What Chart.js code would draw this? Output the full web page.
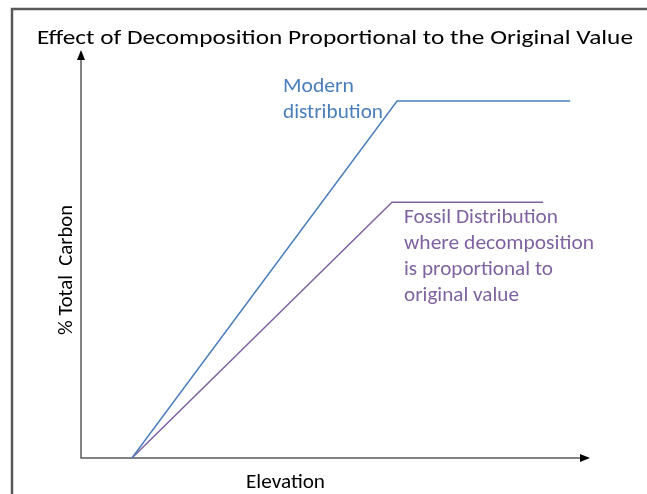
<!DOCTYPE html>
<html><head><meta charset="utf-8">
<script src="https://cdn.jsdelivr.net/npm/chart.js@4"></script>
<style>html,body{margin:0;padding:0;background:#fff}#wrap{width:647px;height:494px}</style>
</head><body><div id="wrap"><canvas id="c" width="647" height="494"></canvas></div>
<script>
const titleText = "Effect of Decomposition Proportional to the Original Value";
const xAxisLabel = "Elevation";
const yAxisLabel = "% Total  Carbon";
const seriesNames = ["Modern distribution", "Fossil Distribution"];
const modernX = [10, 62.1, 96.1];
const modernY = [0, 87.5, 87.5];
const fossilX = [10, 61.1, 90.8];
const fossilY = [0, 62.7, 62.7];
const modernNote = ["Modern", "distribution"];
const fossilNote = ["Fossil Distribution", "where decomposition", "is proportional to", "original value"];

const BLUE = '#4A7EBB', PURPLE = '#7F63A1';
const FONT = '19.5px Carlito, Lato, sans-serif';

function fitText(ctx, text, x, y, w, color, rot) {
  ctx.save();
  ctx.font = FONT;
  ctx.fillStyle = color;
  ctx.textBaseline = 'alphabetic';
  ctx.textAlign = 'left';
  const m = ctx.measureText(text).width;
  ctx.translate(x, y);
  if (rot) ctx.rotate(rot);
  ctx.scale(w / m, 1);
  ctx.fillText(text, 0, 0);
  ctx.restore();
}

const decor = {
  id: 'decor',
  beforeDatasetsDraw(chart) {
    const ctx = chart.ctx, ca = chart.chartArea;
    ctx.save();
    ctx.strokeStyle = '#595959'; ctx.lineWidth = 2.5;
    ctx.beginPath(); ctx.moveTo(12, 500); ctx.lineTo(12, 9); ctx.lineTo(660, 9); ctx.stroke();
    ctx.strokeStyle = '#5a5a5a'; ctx.lineWidth = 1.5;
    ctx.beginPath();
    ctx.moveTo(ca.left, ca.top + 8); ctx.lineTo(ca.left, ca.bottom); ctx.lineTo(ca.right - 8, ca.bottom);
    ctx.stroke();
    ctx.fillStyle = '#000';
    ctx.beginPath();
    ctx.moveTo(ca.left, ca.top); ctx.lineTo(ca.left - 4, ca.top + 10); ctx.lineTo(ca.left + 4, ca.top + 10); ctx.closePath(); ctx.fill();
    ctx.beginPath();
    ctx.moveTo(ca.right, ca.bottom); ctx.lineTo(ca.right - 10, ca.bottom - 4); ctx.lineTo(ca.right - 10, ca.bottom + 4); ctx.closePath(); ctx.fill();
    ctx.restore();
  },
  afterDraw(chart) {
    const ctx = chart.ctx;
    fitText(ctx, titleText, 37, 44, 596, '#000');
    fitText(ctx, xAxisLabel, 246, 488, 79, '#000');
    fitText(ctx, yAxisLabel, 72, 335, 130, '#000', -Math.PI / 2);
    const mw = [71, 100];
    modernNote.forEach((t, i) => fitText(ctx, t, 283, 92 + i * 26, mw[i], BLUE));
    const fw = [154, 190, 149, 115];
    fossilNote.forEach((t, i) => fitText(ctx, t, 404, 223 + i * 26, fw[i], PURPLE));
  }
};

new Chart(document.getElementById('c'), {
  type: 'scatter',
  data: {
    datasets: [
      { label: seriesNames[0], data: modernX.map((x, i) => ({ x, y: modernY[i] })), borderColor: BLUE, showLine: true, pointRadius: 0, borderWidth: 1.5, tension: 0 },
      { label: seriesNames[1], data: fossilX.map((x, i) => ({ x, y: fossilY[i] })), borderColor: PURPLE, showLine: true, pointRadius: 0, borderWidth: 1.5, tension: 0 }
    ]
  },
  options: {
    responsive: false, animation: false,
    layout: { padding: { left: 81, right: 57, top: 50, bottom: 36 } },
    plugins: { legend: { display: false }, tooltip: { enabled: false }, title: { display: false } },
    scales: {
      x: { type: 'linear', min: 0, max: 100, display: false },
      y: { type: 'linear', min: 0, max: 100, display: false }
    }
  },
  plugins: [decor]
});
</script></body></html>
